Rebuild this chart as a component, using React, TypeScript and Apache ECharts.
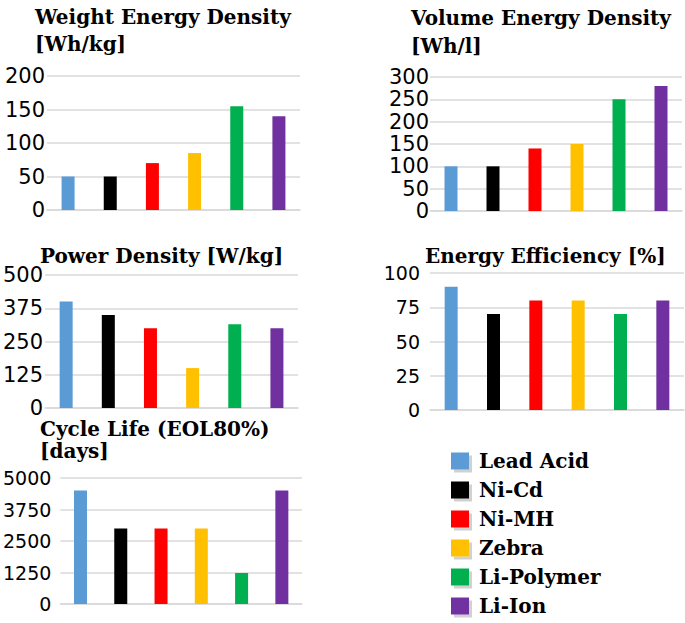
import { useEffect, useRef } from 'react'
import * as echarts from 'echarts'

const categories = ['Lead Acid', 'Ni-Cd', 'Ni-MH', 'Zebra', 'Li-Polymer', 'Li-Ion']
const colors = ['#5b9bd5', '#000000', '#ff0000', '#ffc000', '#00b050', '#7030a0']

const weightDensity = [50, 50, 70, 85, 155, 140]
const volumeDensity = [100, 100, 140, 150, 250, 280]
const powerDensity = [400, 350, 300, 150, 315, 300]
const efficiency = [90, 70, 80, 80, 70, 80]
const cycleLife = [4500, 3000, 3000, 3000, 1230, 4500]

const chartTitles = ['Weight Energy Density\n[Wh/kg]', 'Volume Energy Density\n[Wh/l]', 'Power Density [W/kg]', 'Energy Efficiency [%]', 'Cycle Life (EOL80%)\n[days]']
const yMax = [200, 300, 500, 100, 5000]
const yStep = [50, 50, 125, 25, 1250]

export default function App() {
  const ref = useRef<HTMLDivElement>(null)

  useEffect(() => {
    if (!ref.current) return
    const chart = echarts.init(ref.current, null, { renderer: 'svg' })
    const values = [weightDensity, volumeDensity, powerDensity, efficiency, cycleLife]
    // grid boxes: left, top, width, height
    const boxes = [[47, 76, 253, 134], [430, 77, 252, 134], [45, 275, 253, 133], [430, 273, 254, 137], [57, 478, 245, 126]]
    const titlePos = [[35, 3, 27], [411, 4, 28], [40, 242, 27], [425, 242, 27], [40, 418, 22]]
    const labelSize = [21, 21, 21, 19, 19]
    const labelMargin = [2, 1, 2, 10, 9]
    const serif = 'DejaVu Serif'
    const grayLine = '#d9d9d9'

    const series: any[] = []
    values.forEach((vals, c) => {
      categories.forEach((name, i) => {
        series.push({
          name, type: 'bar', xAxisIndex: c, yAxisIndex: c, barWidth: 13, barGap: '-100%',
          itemStyle: { color: colors[i] },
          data: vals.map((v, j) => (j === i ? v : '-')),
        })
      })
    })

    chart.setOption({
      animation: false,
      title: chartTitles.map((t, c) => ({
        text: t, left: titlePos[c][0], top: titlePos[c][1], padding: 0,
        textStyle: { fontFamily: serif, fontWeight: 'bold', fontSize: 20, lineHeight: titlePos[c][2], color: '#000' },
      })),
      legend: {
        data: categories, orient: 'vertical', left: 451, top: 451, height: 170, padding: 0,
        itemWidth: 18, itemHeight: 17, itemGap: 9, icon: 'rect',
        itemStyle: { shadowColor: 'rgba(0,0,0,0.18)', shadowOffsetX: 3, shadowOffsetY: 3, shadowBlur: 1 },
        textStyle: { fontFamily: serif, fontWeight: 'bold', fontSize: 20, lineHeight: 19, color: '#000', padding: [0, 0, 0, 5] },
      },
      grid: boxes.map(b => ({ left: b[0], top: b[1], width: b[2], height: b[3], containLabel: false })),
      xAxis: boxes.map((_, c) => ({
        type: 'category', gridIndex: c, data: categories,
        axisLine: { lineStyle: { color: grayLine, width: 1.5 } }, axisTick: { show: false }, axisLabel: { show: false },
      })),
      yAxis: boxes.map((_, c) => ({
        type: 'value', gridIndex: c, min: 0, max: yMax[c], interval: yStep[c],
        axisLine: { show: false }, axisTick: { show: false },
        axisLabel: { color: '#000', fontFamily: 'DejaVu Sans', fontSize: labelSize[c], margin: labelMargin[c], formatter: (v: number) => String(v) },
        splitLine: { lineStyle: { color: grayLine, width: 1.5 } },
      })),
      series,
    })
    return () => chart.dispose()
  }, [])

  return <div ref={ref} style={{ position: 'absolute', left: 0, top: 0, width: 685, height: 623, background: '#fff' }} />
}
